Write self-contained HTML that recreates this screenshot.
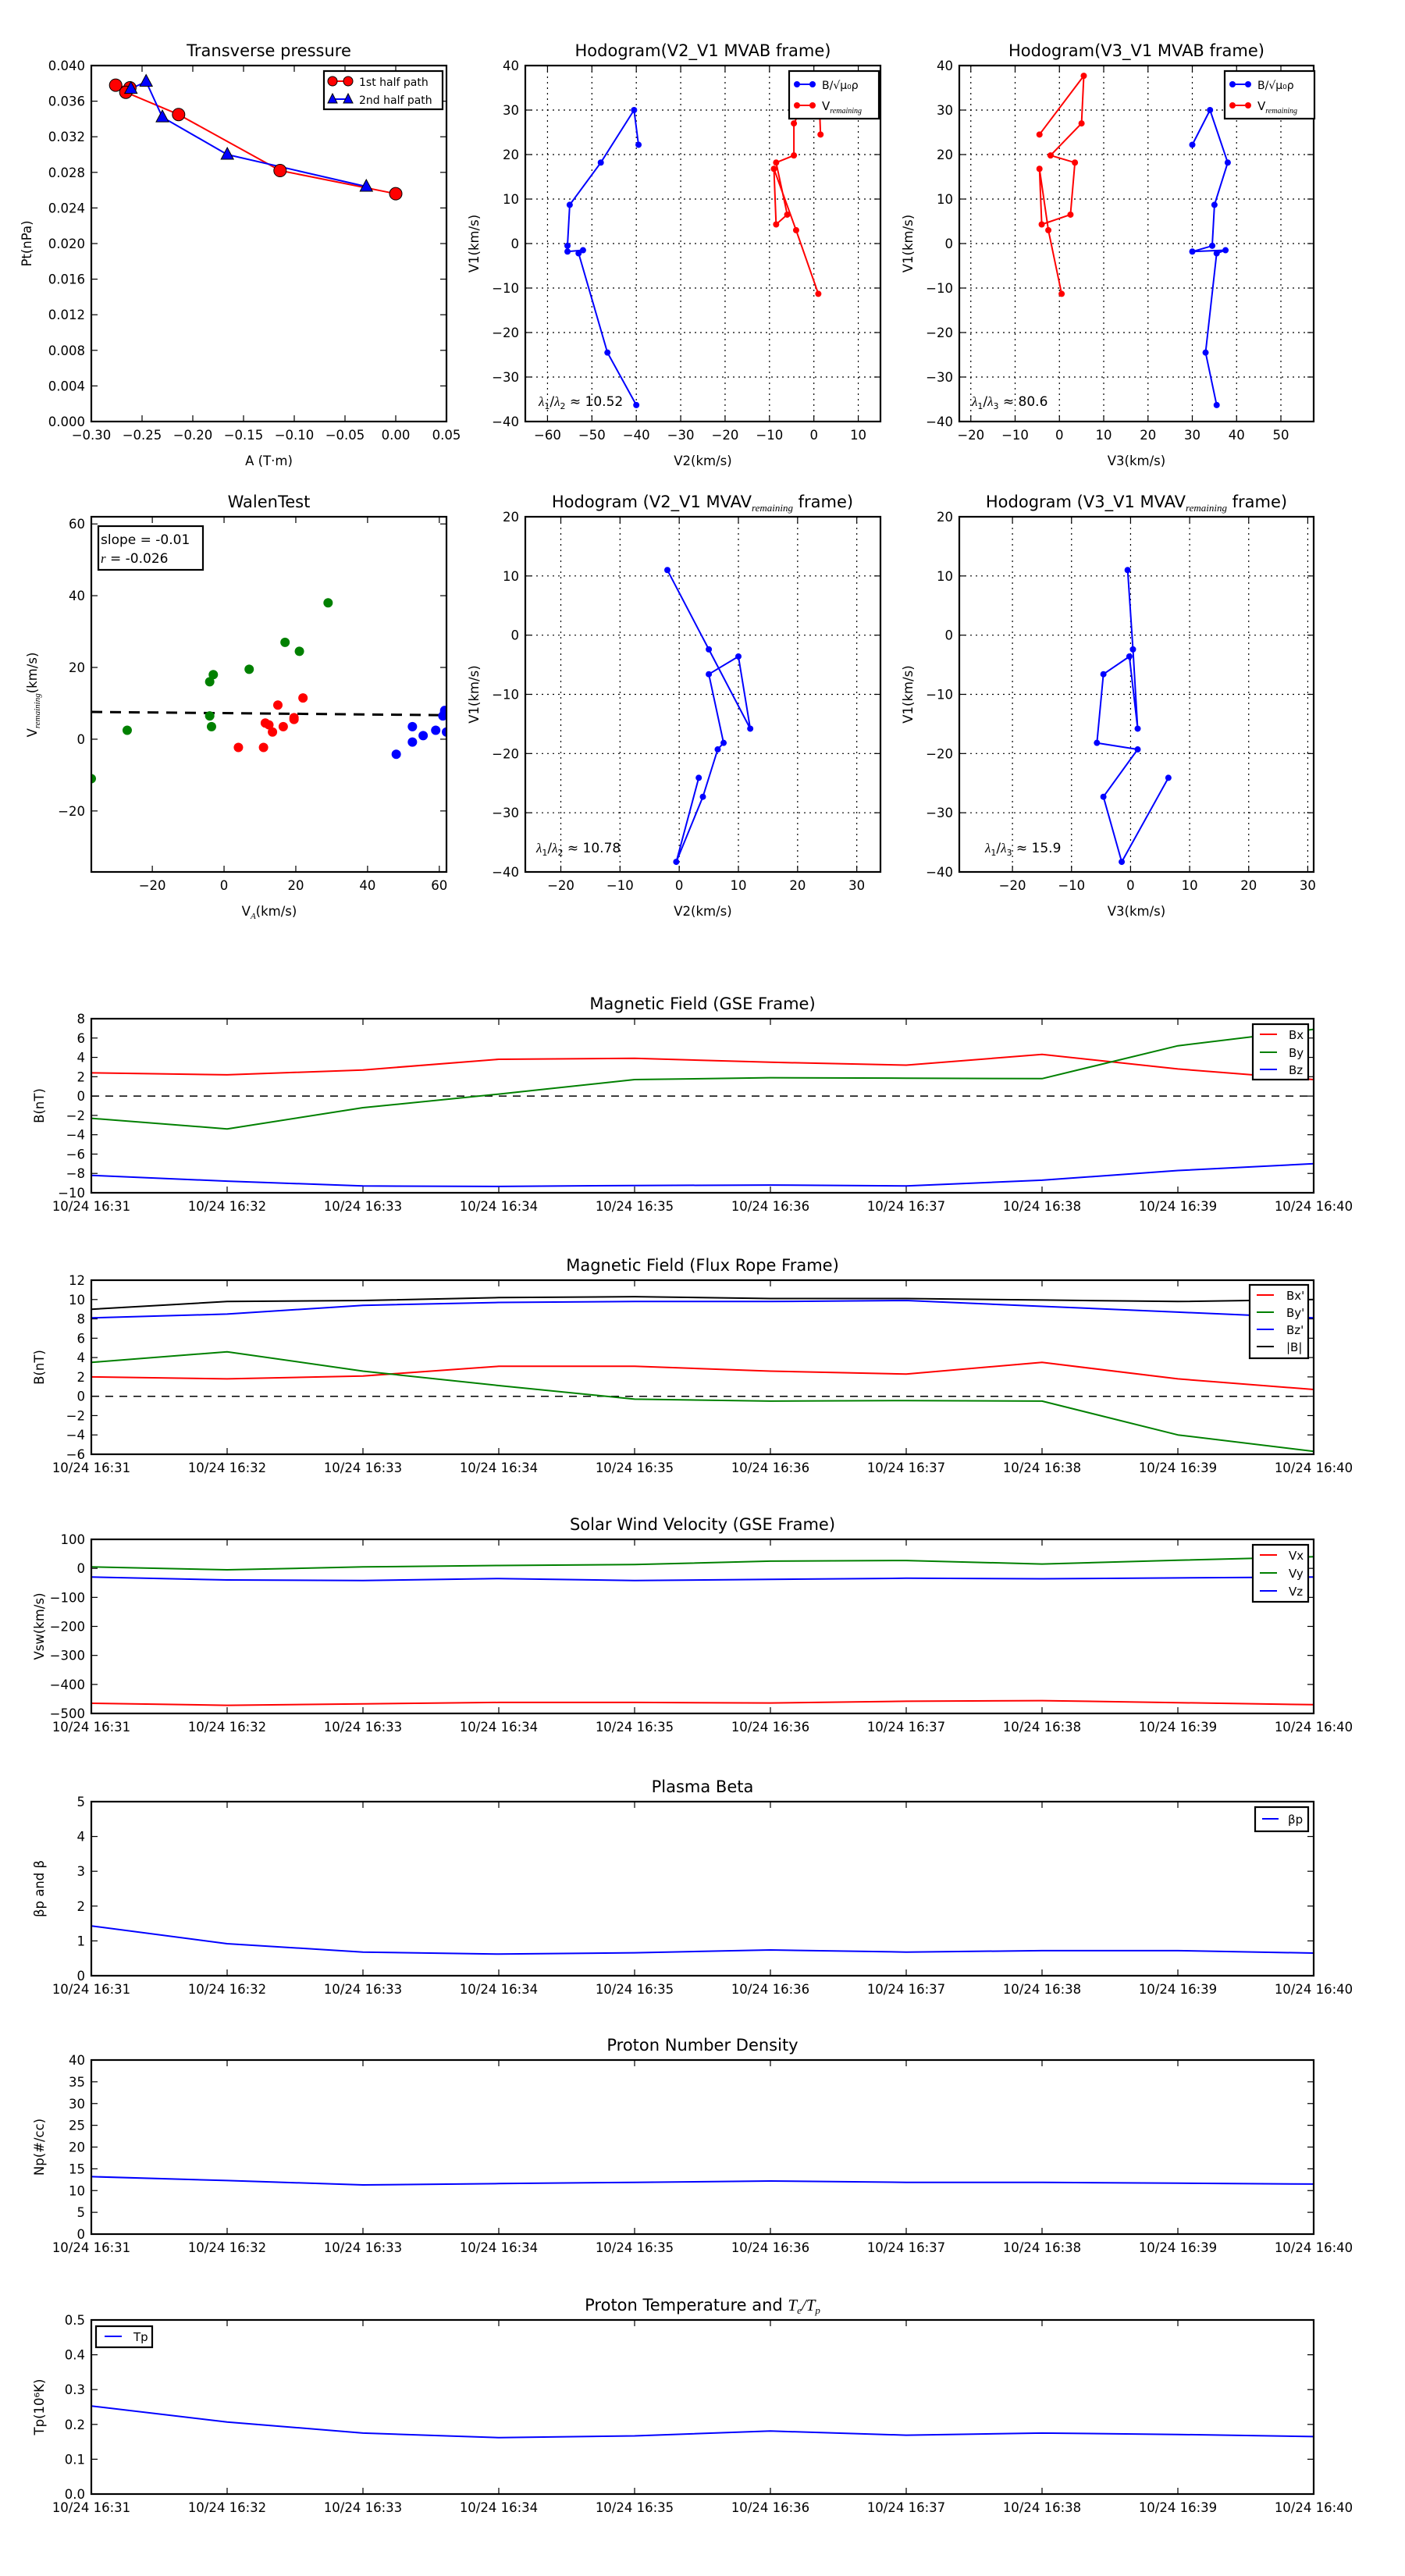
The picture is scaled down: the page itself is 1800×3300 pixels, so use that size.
<!DOCTYPE html>
<html><head><meta charset="utf-8">
<style>
html,body{margin:0;padding:0;background:#fff;}
svg{display:block;font-family:"DejaVu Sans","Liberation Sans",sans-serif;}
</style></head>
<body>
<svg id="fig" xmlns="http://www.w3.org/2000/svg" width="1800" height="3300" viewBox="0 0 1800 3300"></svg>
<script>
// ---------- DATA ----------
const tpRedA=[-0.276,-0.262,-0.266,-0.214,-0.114,0.0];
const tpRedPt=[0.0378,0.0375,0.0370,0.0345,0.0282,0.0256];
const tpBlueA=[-0.261,-0.246,-0.230,-0.166,-0.029];
const tpBluePt=[0.0374,0.0382,0.0342,0.0300,0.0264];

const hbV2=[-39.5,-40.5,-48,-55,-55.5,-55.5,-52,-53,-46.5,-40];
const hbV3=[30,34,38,35,34.5,30,37.5,35.5,33,35.5];
const hbV1=[22.2,30,18.2,8.7,-0.5,-1.8,-1.5,-2.2,-24.5,-36.3];
const hvV2=[1.5,1,-4.5,-4.5,-8.5,-6,-8.5,-9,-4,1];
const hvV3=[-4.5,5.5,5,-2,3.5,2.5,-4,-4.5,-2.5,0.5];
const hvV1=[24.5,37.7,27,19.8,18.2,6.5,4.3,16.8,3,-11.3];

const walGreenX=[-37,-27,-4,-3,-4,-3.5,7,17,21,29];
const walGreenY=[-11,2.5,16,18,6.5,3.5,19.5,27,24.5,38];
const walRedX=[4,11,11.5,12.5,13.5,15,16.5,19.5,22,19.5];
const walRedY=[-2.3,-2.3,4.5,4,2,9.5,3.5,6,11.5,5.5];
const walBlueX=[48,52.5,52.5,55.5,59,61,61.5,62,61.5];
const walBlueY=[-4.2,3.5,-0.8,1,2.5,6.5,8,2,7.5];
const walFitX=[-37,62];
const walFitY=[7.6,6.7];

const hmV2=[-2,5,12,10,5,7.5,6.5,4,-0.5,3.3];
const hmV3=[-0.5,0.4,1.2,-0.2,-4.6,-5.7,1.2,-4.6,-1.5,6.4];
const hmV1=[11,-2.4,-15.8,-3.6,-6.6,-18.2,-19.3,-27.3,-38.3,-24.1];

const timeLabels=["10/24 16:31","10/24 16:32","10/24 16:33","10/24 16:34","10/24 16:35","10/24 16:36","10/24 16:37","10/24 16:38","10/24 16:39","10/24 16:40"];
const gseBx=[2.4,2.2,2.7,3.8,3.9,3.5,3.2,4.3,2.8,1.7];
const gseBy=[-2.3,-3.4,-1.2,0.2,1.7,1.9,1.85,1.8,5.2,6.9];
const gseBz=[-8.2,-8.8,-9.3,-9.35,-9.25,-9.2,-9.3,-8.7,-7.7,-7.0];
const frBx=[2.0,1.8,2.1,3.1,3.1,2.6,2.3,3.5,1.8,0.7];
const frBy=[3.5,4.6,2.6,1.1,-0.3,-0.5,-0.45,-0.5,-4.0,-5.7];
const frBz=[8.1,8.5,9.4,9.7,9.8,9.8,9.9,9.3,8.7,8.1];
const frBt=[9.0,9.8,9.9,10.2,10.3,10.1,10.1,9.95,9.8,10.0];
const vswVx=[-465,-472,-467,-462,-462,-464,-458,-456,-463,-470];
const vswVy=[5,-5,5,10,13,25,27,15,28,40];
const vswVz=[-30,-40,-42,-35,-42,-38,-34,-36,-33,-30];
const betaP=[1.43,0.92,0.68,0.62,0.66,0.74,0.68,0.72,0.72,0.65];
const npVals=[13.2,12.3,11.3,11.6,11.9,12.2,11.9,11.9,11.7,11.5];
const tpVals=[0.253,0.207,0.175,0.162,0.167,0.181,0.169,0.175,0.171,0.165];

// ---------- HELPERS ----------
const NS='http://www.w3.org/2000/svg';
const svg=document.getElementById('fig');
function mk(tag,attrs,parent,name){
  const n=document.createElementNS(NS,tag);
  for(const k in attrs) n.setAttribute(k,attrs[k]);
  
  
  (parent||svg).appendChild(n);
  return n;
}
function txt(x,y,s,size,anchor,parent,name,extra){
  const a={x:x,y:y,'font-size':size,'text-anchor':anchor||'middle',fill:'#000'};
  if(extra) for(const k in extra) a[k]=extra[k];
  const t=mk('text',a,parent,name);
  t.textContent=s;
  return t;
}
function fmtNum(v,dec){let s=v.toFixed(dec); if(v<0) s='\u2212'+s.slice(1); return s;}
function ticksRange(a,b,st){const r=[];for(let v=a;v<=b+st*1e-6;v+=st) r.push(Math.round(v/st)*st);return r;}

function axes(o){
  const g=mk('g',{},svg,o.name);
  const sx=v=>o.x0+(v-o.xmin)/(o.xmax-o.xmin)*(o.x1-o.x0);
  const sy=v=>o.y1-(v-o.ymin)/(o.ymax-o.ymin)*(o.y1-o.y0);
  const clipId=o.name+'-clip';
  const cp=mk('clipPath',{id:clipId},g,o.name+'-clip-path');
  mk('rect',{x:o.x0,y:o.y0,width:o.x1-o.x0,height:o.y1-o.y0},cp,'clip-rect');
  if(o.grid){
    o.xticks.forEach(v=>{const X=sx(v); if(X>o.x0+1&&X<o.x1-1) mk('line',{x1:X,x2:X,y1:o.y0,y2:o.y1,stroke:'#000','stroke-width':1.2,'stroke-dasharray':'2,5'},g,'x-grid-line');});
    o.yticks.forEach(v=>{const Y=sy(v); if(Y>o.y0+1&&Y<o.y1-1) mk('line',{x1:o.x0,x2:o.x1,y1:Y,y2:Y,stroke:'#000','stroke-width':1.2,'stroke-dasharray':'2,5'},g,'y-grid-line');});
  }
  o.xticks.forEach((v,i)=>{const X=sx(v);
    mk('line',{x1:X,x2:X,y1:o.y1,y2:o.y1-8,stroke:'#000','stroke-width':1.2},g,'x-tick');
    mk('line',{x1:X,x2:X,y1:o.y0,y2:o.y0+8,stroke:'#000','stroke-width':1.2},g,'x-tick-top');
    txt(X,o.y1+23,o.xlabels[i],16.5,'middle',g,'x-tick-label');
  });
  o.yticks.forEach((v,i)=>{const Y=sy(v);
    mk('line',{x1:o.x0,x2:o.x0+8,y1:Y,y2:Y,stroke:'#000','stroke-width':1.2},g,'y-tick');
    mk('line',{x1:o.x1,x2:o.x1-8,y1:Y,y2:Y,stroke:'#000','stroke-width':1.2},g,'y-tick-right');
    txt(o.x0-8,Y+6,o.ylabels[i],16.5,'end',g,'y-tick-label');
  });
  const plot=mk('g',{'clip-path':'url(#'+clipId+')'},g,o.name+'-plot-area');
  if(o.title) txt((o.x0+o.x1)/2,o.y0-12,o.title,21,'middle',g,'chart-title');
  if(o.xlabel) txt((o.x0+o.x1)/2,o.y1+56,o.xlabel,16.5,'middle',g,'x-axis-title');
  if(o.ylabel){const yx=o.ylx||(o.x0-60); txt(yx,(o.y0+o.y1)/2,o.ylabel,16.5,'middle',g,'y-axis-title',{transform:'rotate(-90 '+yx+' '+(o.y0+o.y1)/2+')'});}
  return {g,plot,sx,sy,o,frame:()=>mk('rect',{x:o.x0,y:o.y0,width:o.x1-o.x0,height:o.y1-o.y0,fill:'none',stroke:'#000','stroke-width':2.2},g,'axes-frame')};
}
function line(ax,xs,ys,color,name,w,dash){
  const pts=xs.map((x,i)=>ax.sx(x).toFixed(1)+','+ax.sy(ys[i]).toFixed(1)).join(' ');
  const a={points:pts,fill:'none',stroke:color,'stroke-width':w||2,'stroke-linejoin':'round'};
  if(dash) a['stroke-dasharray']=dash;
  return mk('polyline',a,ax.plot,name);
}
function dots(ax,xs,ys,color,r,name,edge){
  xs.forEach((x,i)=>{mk('circle',{cx:ax.sx(x),cy:ax.sy(ys[i]),r:r,fill:color,stroke:edge?'#000':color,'stroke-width':edge?1:0},ax.plot,name);});
}
function tris(ax,xs,ys,color,name){
  xs.forEach((x,i)=>{const X=ax.sx(x),Y=ax.sy(ys[i]);
    mk('polygon',{points:(X)+','+(Y-9)+' '+(X-8)+','+(Y+6)+' '+(X+8)+','+(Y+6),fill:color,stroke:'#000','stroke-width':1},ax.plot,name);});
}
function legendBox(x,y,w,h,name){return mk('rect',{x:x,y:y,width:w,height:h,fill:'#fff',stroke:'#000','stroke-width':2.2},svg,name);}
function legItem(x1,x2,y,color,label,tx,name){
  mk('line',{x1:x1,x2:x2,y1:y,y2:y,stroke:color,'stroke-width':2},svg,name+'-swatch');
  txt(tx,y+6,label,15,'start',svg,name+'-label');
}

// ---------- ROW 1 ----------
const R1={y0:84,y1:540};
const ax1=axes({name:'transverse-pressure',x0:117,x1:572,y0:R1.y0,y1:R1.y1,xmin:-0.3,xmax:0.05,ymin:0,ymax:0.04,
  xticks:ticksRange(-0.3,0.05,0.05),xlabels:ticksRange(-0.3,0.05,0.05).map(v=>fmtNum(v,2)),
  yticks:ticksRange(0,0.04,0.004),ylabels:ticksRange(0,0.04,0.004).map(v=>v.toFixed(3)),
  title:'Transverse pressure',xlabel:'A (T·m)',ylabel:'Pt(nPa)',ylx:40});
line(ax1,tpRedA,tpRedPt,'#f00','red-path-line');
line(ax1,tpBlueA,tpBluePt,'#00f','blue-path-line');
dots(ax1,tpRedA,tpRedPt,'#f00',8,'red-path-marker',true);
tris(ax1,tpBlueA,tpBluePt,'#00f','blue-path-marker');
ax1.frame();
legendBox(415,91,152,49,'pressure-legend');
mk('line',{x1:426,x2:446,y1:104,y2:104,stroke:'#f00','stroke-width':2},svg,'legend-red-line');
mk('circle',{cx:426,cy:104,r:6,fill:'#f00',stroke:'#000','stroke-width':1},svg,'legend-red-marker');
mk('circle',{cx:446,cy:104,r:6,fill:'#f00',stroke:'#000','stroke-width':1},svg,'legend-red-marker');
txt(460,110,'1st half path',14,'start',svg,'legend-1st-half');
mk('line',{x1:426,x2:446,y1:127,y2:127,stroke:'#00f','stroke-width':2},svg,'legend-blue-line');
mk('polygon',{points:'426,120 420,132 432,132',fill:'#00f',stroke:'#000','stroke-width':1},svg,'legend-blue-marker');
mk('polygon',{points:'446,120 440,132 452,132',fill:'#00f',stroke:'#000','stroke-width':1},svg,'legend-blue-marker');
txt(460,133,'2nd half path',14,'start',svg,'legend-2nd-half');

function hodoLegend(x){
  legendBox(x,91,115,61,'hodogram-legend');
  mk('line',{x1:x+10,x2:x+30,y1:108,y2:108,stroke:'#00f','stroke-width':2},svg,'legend-b-line');
  mk('circle',{cx:x+10,cy:108,r:4,fill:'#00f'},svg,'legend-b-marker');
  mk('circle',{cx:x+30,cy:108,r:4,fill:'#00f'},svg,'legend-b-marker');
  txt(x+42,114,'B/√μ₀ρ',14,'start',svg,'legend-b-label');
  mk('line',{x1:x+10,x2:x+30,y1:135,y2:135,stroke:'#f00','stroke-width':2},svg,'legend-v-line');
  mk('circle',{cx:x+10,cy:135,r:4,fill:'#f00'},svg,'legend-v-marker');
  mk('circle',{cx:x+30,cy:135,r:4,fill:'#f00'},svg,'legend-v-marker');
  const t=txt(x+42,141,'V',15,'start',svg,'legend-v-label');
  const s=mk('tspan',{'font-size':10,'font-style':'italic','font-family':'Liberation Serif, serif',dy:4},t,'legend-v-subscript');
  s.textContent='remaining';
}
function lamText(x,y,a,b,val,name){
  const t=txt(x,y,'',17,'start',svg,name);
  const parts=[['λ',0,'italic'],[a,4,''],['/',-4,''],['λ',0,'italic'],[b,4,''],[' ≈ '+val,-4,'']];
  parts.forEach(p=>{const s=mk('tspan',{dy:p[1],'font-family':(p[2]?'Liberation Serif, serif':'DejaVu Sans, sans-serif'),'font-style':p[2]||'normal','font-size':(p[1]>0?11:17)},t,'lambda-part'); s.textContent=p[0];});
}
const ax2=axes({name:'hodogram-v2-v1-mvab',x0:673,x1:1128,y0:R1.y0,y1:R1.y1,xmin:-65,xmax:15,ymin:-40,ymax:40,grid:true,
  xticks:ticksRange(-60,10,10),xlabels:ticksRange(-60,10,10).map(v=>fmtNum(v,0)),
  yticks:ticksRange(-40,40,10),ylabels:ticksRange(-40,40,10).map(v=>fmtNum(v,0)),
  title:'Hodogram(V2_V1 MVAB frame)',xlabel:'V2(km/s)',ylabel:'V1(km/s)',ylx:613});
line(ax2,hbV2,hbV1,'#00f','b-hodogram-line');dots(ax2,hbV2,hbV1,'#00f',4,'b-hodogram-point');
line(ax2,hvV2,hvV1,'#f00','v-hodogram-line');dots(ax2,hvV2,hvV1,'#f00',4,'v-hodogram-point');
ax2.frame();hodoLegend(1011);
lamText(690,520,'1','2','10.52','eigen-ratio-text');

const ax3=axes({name:'hodogram-v3-v1-mvab',x0:1229,x1:1683,y0:R1.y0,y1:R1.y1,xmin:-22.6,xmax:57.4,ymin:-40,ymax:40,grid:true,
  xticks:ticksRange(-20,50,10),xlabels:ticksRange(-20,50,10).map(v=>fmtNum(v,0)),
  yticks:ticksRange(-40,40,10),ylabels:ticksRange(-40,40,10).map(v=>fmtNum(v,0)),
  title:'Hodogram(V3_V1 MVAB frame)',xlabel:'V3(km/s)',ylabel:'V1(km/s)',ylx:1169});
line(ax3,hbV3,hbV1,'#00f','b-hodogram-line');dots(ax3,hbV3,hbV1,'#00f',4,'b-hodogram-point');
line(ax3,hvV3,hvV1,'#f00','v-hodogram-line');dots(ax3,hvV3,hvV1,'#f00',4,'v-hodogram-point');
ax3.frame();hodoLegend(1569);
lamText(1245,520,'1','3','80.6','eigen-ratio-text');

// ---------- ROW 2 ----------
const R2={y0:662,y1:1117};
const ax4=axes({name:'walen-test',x0:117,x1:572,y0:R2.y0,y1:R2.y1,xmin:-37,xmax:62,ymin:-37,ymax:62,
  xticks:ticksRange(-20,60,20),xlabels:ticksRange(-20,60,20).map(v=>fmtNum(v,0)),
  yticks:ticksRange(-20,60,20),ylabels:ticksRange(-20,60,20).map(v=>fmtNum(v,0)),
  title:'WalenTest',xlabel:'',ylabel:''});
line(ax4,walFitX,walFitY,'#000','fit-line',3,'14,10');
dots(ax4,walGreenX,walGreenY,'#008000',6,'walen-green-point');
dots(ax4,walRedX,walRedY,'#f00',6,'walen-red-point');
dots(ax4,walBlueX,walBlueY,'#00f',6,'walen-blue-point');
ax4.frame();
legendBox(126,674,134,56,'walen-stats-box');
txt(129,697,'slope = -0.01',17,'start',svg,'slope-text');
const rt=txt(129,721,'',17,'start',svg,'r-text');
const rt1=mk('tspan',{'font-family':'Liberation Serif, serif','font-style':'italic'},rt,'r-symbol');rt1.textContent='r';
const rt2=mk('tspan',{},rt,'r-value');rt2.textContent=' = -0.026';
const wx=txt(345,1173,'V',16.5,'middle',svg,'x-axis-title');
const wxs=mk('tspan',{'font-size':11,'font-style':'italic','font-family':'Liberation Serif, serif',dy:4},wx,'x-axis-subscript');wxs.textContent='A';
const wxr=mk('tspan',{dy:-4},wx,'x-axis-unit');wxr.textContent='(km/s)';
const wy=txt(47,890,'V',16.5,'middle',svg,'y-axis-title',{transform:'rotate(-90 47 890)'});
const wys=mk('tspan',{'font-size':11,'font-style':'italic','font-family':'Liberation Serif, serif',dy:4},wy,'y-axis-subscript');wys.textContent='remaining';
const wyr=mk('tspan',{dy:-4},wy,'y-axis-unit');wyr.textContent='(km/s)';

function subTitle(cx,y,a,name){
  const t=txt(cx,y,a,21,'middle',svg,name);
  const s=mk('tspan',{'font-size':13,'font-style':'italic','font-family':'Liberation Serif, serif',dy:5},t,'title-subscript');s.textContent='remaining';
  const r=mk('tspan',{dy:-5},t,'title-rest');r.textContent=' frame)';
}
const ax5=axes({name:'hodogram-v2-v1-mvav',x0:673,x1:1128,y0:R2.y0,y1:R2.y1,xmin:-26,xmax:34,ymin:-40,ymax:20,grid:true,
  xticks:ticksRange(-20,30,10),xlabels:ticksRange(-20,30,10).map(v=>fmtNum(v,0)),
  yticks:ticksRange(-40,20,10),ylabels:ticksRange(-40,20,10).map(v=>fmtNum(v,0)),
  title:'',xlabel:'V2(km/s)',ylabel:'V1(km/s)',ylx:613});
line(ax5,hmV2,hmV1,'#00f','mvav-hodogram-line');dots(ax5,hmV2,hmV1,'#00f',4,'mvav-hodogram-point');
ax5.frame();subTitle(900,650,'Hodogram (V2_V1 MVAV','chart-title');
lamText(687,1092,'1','2','10.78','eigen-ratio-text');

const ax6=axes({name:'hodogram-v3-v1-mvav',x0:1229,x1:1683,y0:R2.y0,y1:R2.y1,xmin:-29,xmax:31,ymin:-40,ymax:20,grid:true,
  xticks:ticksRange(-20,30,10),xlabels:ticksRange(-20,30,10).map(v=>fmtNum(v,0)),
  yticks:ticksRange(-40,20,10),ylabels:ticksRange(-40,20,10).map(v=>fmtNum(v,0)),
  title:'',xlabel:'V3(km/s)',ylabel:'V1(km/s)',ylx:1169});
line(ax6,hmV3,hmV1,'#00f','mvav-hodogram-line');dots(ax6,hmV3,hmV1,'#00f',4,'mvav-hodogram-point');
ax6.frame();subTitle(1456,650,'Hodogram (V3_V1 MVAV','chart-title');
lamText(1262,1092,'1','3','15.9','eigen-ratio-text');

// ---------- TIME SERIES ----------
const idx=timeLabels.map((_,i)=>i);
function ts(name,y0,ymin,ymax,step,dec,title,ylabel){
  const yt=ticksRange(ymin,ymax,step);
  return axes({name:name,x0:117,x1:1683,y0:y0,y1:y0+223,xmin:0,xmax:9,ymin:ymin,ymax:ymax,
    xticks:idx,xlabels:timeLabels,yticks:yt,ylabels:yt.map(v=>fmtNum(v,dec)),title:title,ylabel:ylabel,ylx:56});
}
const t1=ts('magnetic-field-gse',1305,-10,8,2,0,'Magnetic Field (GSE Frame)','B(nT)');
line(t1,[0,9],[0,0],'#000','zero-line',1.5,'10,8');
line(t1,idx,gseBx,'#f00','bx-line');line(t1,idx,gseBy,'#008000','by-line');line(t1,idx,gseBz,'#00f','bz-line');
t1.frame();
legendBox(1605,1312,71,71,'gse-legend');
legItem(1614,1636,1325,'#f00','Bx',1651,'legend-bx');legItem(1614,1636,1348,'#008000','By',1651,'legend-by');legItem(1614,1636,1370,'#00f','Bz',1651,'legend-bz');

const t2=ts('magnetic-field-flux-rope',1640,-6,12,2,0,'Magnetic Field (Flux Rope Frame)','B(nT)');
line(t2,[0,9],[0,0],'#000','zero-line',1.5,'10,8');
line(t2,idx,frBx,'#f00','bx-prime-line');line(t2,idx,frBy,'#008000','by-prime-line');line(t2,idx,frBz,'#00f','bz-prime-line');line(t2,idx,frBt,'#000','btotal-line');
t2.frame();
legendBox(1601,1646,75,94,'flux-rope-legend');
legItem(1610,1632,1659,'#f00',"Bx'",1648,'legend-bx-prime');legItem(1610,1632,1681,'#008000',"By'",1648,'legend-by-prime');
legItem(1610,1632,1703,'#00f',"Bz'",1648,'legend-bz-prime');legItem(1610,1632,1725,'#000','|B|',1648,'legend-btotal');

const t3=ts('solar-wind-velocity',1972,-500,100,100,0,'Solar Wind Velocity (GSE Frame)','Vsw(km/s)');
line(t3,idx,vswVx,'#f00','vx-line');line(t3,idx,vswVy,'#008000','vy-line');line(t3,idx,vswVz,'#00f','vz-line');
t3.frame();
legendBox(1605,1979,71,73,'velocity-legend');
legItem(1614,1636,1992,'#f00','Vx',1651,'legend-vx');legItem(1614,1636,2015,'#008000','Vy',1651,'legend-vy');legItem(1614,1636,2038,'#00f','Vz',1651,'legend-vz');

const t4=ts('plasma-beta',2308,0,5,1,0,'Plasma Beta','βp and β');
line(t4,idx,betaP,'#00f','beta-p-line');
t4.frame();
legendBox(1608,2315,68,31,'beta-legend');
legItem(1617,1638,2330,'#00f','βp',1650,'legend-beta-p');

const t5=ts('proton-density',2639,0,40,5,0,'Proton Number Density','Np(#/cc)');
line(t5,idx,npVals,'#00f','np-line');
t5.frame();

const t6=ts('proton-temperature',2972,0,0.5,0.1,1,'','Tp(10⁶K)');
line(t6,idx,tpVals,'#00f','tp-line');
t6.frame();
const tt=txt(900,2960,'Proton Temperature and ',21,'middle',svg,'chart-title');
const tt1=mk('tspan',{'font-family':'Liberation Serif, serif','font-style':'italic'},tt,'title-math');tt1.textContent='T';
const tt2=mk('tspan',{'font-family':'Liberation Serif, serif','font-style':'italic','font-size':13,dy:4},tt,'title-math-sub');tt2.textContent='e';
const tt3=mk('tspan',{'font-family':'Liberation Serif, serif','font-style':'italic',dy:-4},tt,'title-math');tt3.textContent='/T';
const tt4=mk('tspan',{'font-family':'Liberation Serif, serif','font-style':'italic','font-size':13,dy:4},tt,'title-math-sub');tt4.textContent='p';
legendBox(123,2980,72,27,'tp-legend');
legItem(134,156,2993,'#00f','Tp',171,'legend-tp');
</script>
</body></html>
